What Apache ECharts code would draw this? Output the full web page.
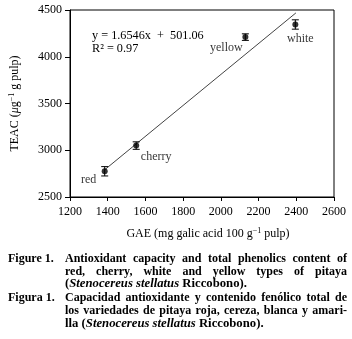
<!DOCTYPE html>
<html>
<head>
<meta charset="utf-8">
<script src="https://cdn.jsdelivr.net/npm/echarts@6/dist/echarts.min.js"></script>
<style>
html,body{margin:0;padding:0;background:#fff;}
#c{width:352px;height:339px;}
</style>
</head>
<body>
<div id="c"></div>
<script>
// ---- data ----
var varieties = ['red', 'cherry', 'yellow', 'white'];
var gaeValues = [1384, 1551, 2130, 2395];
var teacValues = [2775, 3050, 4210, 4345];
var teacErrors = [50, 40, 35, 50];
var trendX = [1385, 2398];
var trendY = [2793, 4469];
var xTicks = [1200, 1400, 1600, 1800, 2000, 2200, 2400, 2600];
var yTicks = [2500, 3000, 3500, 4000, 4500];
var equationText = 'y = 1.6546x  +  501.06';
var r2Text = 'R² = 0.97';
var captionEn = [
  'Antioxidant capacity and total phenolics content of',
  'red, cherry, white and yellow types of pitaya'
];
var captionEs = [
  'Capacidad antioxidante y contenido fenólico total de',
  'los variedades de pitaya roja, cereza, blanca y amari-'
];

var FONT = '"Liberation Serif", "Times New Roman", serif';
var labelOffsets = [[-16, 9], [20, 11], [-19, 11], [5, 14]];

var scatterData = gaeValues.map(function (x, i) {
  return {
    value: [x, teacValues[i]],
    label: { show: true, formatter: varieties[i], position: 'inside', offset: labelOffsets[i],
      color: '#000', fontFamily: FONT, fontSize: 12 }
  };
});
var errData = gaeValues.map(function (x, i) {
  return [x, teacValues[i] - teacErrors[i], teacValues[i] + teacErrors[i]];
});
var trendData = trendX.map(function (x, i) { return [x, trendY[i]]; });

// caption justification helper
var mctx = document.createElement('canvas').getContext('2d');
function measure(t, font) { mctx.font = font; return mctx.measureText(t).width; }
var CAP_SIZE = 12;
var capFont = 'bold ' + CAP_SIZE + 'px ' + FONT;
var capLeft = 65, capRight = 347;
var graphics = [];
function justifiedLine(text, y) {
  var words = text.split(' ');
  var total = 0;
  words.forEach(function (w) { total += measure(w, capFont); });
  var gap = (capRight - capLeft - total) / (words.length - 1);
  var x = capLeft;
  words.forEach(function (w) {
    graphics.push({ type: 'text', x: x, y: y, style: { text: w, font: capFont, fill: '#000', textVerticalAlign: 'middle' } });
    x += measure(w, capFont) + gap;
  });
}
function plainText(text, x, y, sx) {
  graphics.push({ type: 'text', x: x, y: y, scaleX: sx || 1, style: { text: text, font: capFont, fill: '#000', textVerticalAlign: 'middle' } });
}
function richText(x, y, parts) {
  graphics.push({ type: 'text', x: x, y: y, scaleX: 1.06, style: {
    text: parts, fill: '#000', verticalAlign: 'middle', fontFamily: FONT, fontSize: CAP_SIZE, fontWeight: 'bold',
    rich: { b: { fontFamily: FONT, fontSize: CAP_SIZE, fontWeight: 'bold', fill: '#000' },
            i: { fontFamily: FONT, fontSize: CAP_SIZE, fontWeight: 'bold', fontStyle: 'italic', fill: '#000' } }
  } });
}
plainText('Figure 1.', 8, 259, 1.0);
justifiedLine(captionEn[0], 259);
justifiedLine(captionEn[1], 272);
richText(65, 284, '{b|(}{i|Stenocereus stellatus}{b| Riccobono).}');
plainText('Figura 1.', 8, 298, 1.0);
justifiedLine(captionEs[0], 298);
justifiedLine(captionEs[1], 311);
richText(65, 324, '{b|lla (}{i|Stenocereus stellatus}{b| Riccobono).}');

graphics.push({ type: 'text', x: 92, y: 36, scaleX: 1.02, style: { text: equationText, font: '12px ' + FONT, fill: '#000', textVerticalAlign: 'middle' } });
graphics.push({ type: 'text', x: 92, y: 49, scaleX: 1.02, style: { text: r2Text, font: '12px ' + FONT, fill: '#000', textVerticalAlign: 'middle' } });

function plain(v) { return String(v); }

var chart = echarts.init(document.getElementById('c'), null, { renderer: 'canvas' });
chart.setOption({
  backgroundColor: '#fff',
  animation: false,
  grid: { left: 67, right: 18, top: 10, bottom: 142, show: true, borderColor: '#000', borderWidth: 1 },
  xAxis: {
    type: 'value', min: xTicks[0], max: xTicks[xTicks.length - 1], interval: 200,
    name: 'GAE (mg galic acid 100 g{s|−1} pulp)', nameLocation: 'middle', nameGap: 30,
    nameTextStyle: { color: '#000', fontFamily: FONT, fontSize: 12, padding: [0, 0, 0, 12],
      rich: { s: { fontSize: 8, fontFamily: FONT, color: '#000', padding: [0, 0, 6, 0] } } },
    axisLine: { lineStyle: { color: '#000', width: 1 } },
    axisTick: { show: true, inside: false, length: 4, lineStyle: { color: '#000' } },
    axisLabel: { color: '#000', fontFamily: FONT, fontSize: 12, margin: 9, formatter: plain },
    splitLine: { show: false }
  },
  yAxis: {
    type: 'value', min: yTicks[0], max: yTicks[yTicks.length - 1], interval: 500,
    name: 'TEAC ({i|μ}g{s|−1} g pulp)', nameLocation: 'middle', nameGap: 48,
    nameTextStyle: { color: '#000', fontFamily: FONT, fontSize: 12,
      rich: { i: { fontStyle: 'italic', fontFamily: FONT, fontSize: 12, color: '#000' },
              s: { fontSize: 8, fontFamily: FONT, color: '#000', padding: [0, 0, 6, 0] } } },
    axisLine: { show: true, lineStyle: { color: '#000', width: 1 } },
    axisTick: { show: true, inside: false, length: 5, lineStyle: { color: '#000' } },
    axisLabel: { color: '#000', fontFamily: FONT, fontSize: 12, margin: 8, formatter: plain },
    splitLine: { show: false }
  },
  graphic: graphics,
  series: [
    {
      type: 'line', data: trendData, symbol: 'none', silent: true,
      lineStyle: { color: '#444', width: 1 }, z: 1
    },
    {
      type: 'custom', data: errData, z: 2,
      renderItem: function (params, api) {
        var x = api.value(0);
        var lo = api.coord([x, api.value(1)]);
        var hi = api.coord([x, api.value(2)]);
        var w = 3.5;
        var st = { stroke: '#000', lineWidth: 1 };
        return { type: 'group', children: [
          { type: 'line', shape: { x1: lo[0], y1: lo[1], x2: hi[0], y2: hi[1] }, style: st },
          { type: 'line', shape: { x1: lo[0] - w, y1: lo[1], x2: lo[0] + w, y2: lo[1] }, style: st },
          { type: 'line', shape: { x1: hi[0] - w, y1: hi[1], x2: hi[0] + w, y2: hi[1] }, style: st }
        ] };
      }
    },
    {
      type: 'scatter', data: scatterData, symbol: 'circle', symbolSize: 6, z: 3,
      itemStyle: { color: '#000' }
    }
  ]
});
</script>
</body>
</html>
